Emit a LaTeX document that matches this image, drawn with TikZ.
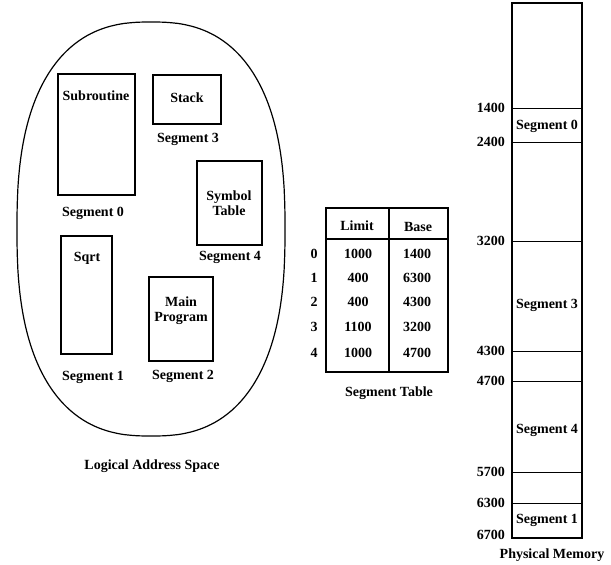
\documentclass[tikz,border=0pt]{standalone}
\usepackage{fontspec}
\setmainfont{Liberation Serif}
\usetikzlibrary{positioning}
\tikzset{
  lbl/.style={font=\fontsize{14}{15}\selectfont\bfseries, inner sep=0pt, align=center},
  segbox/.style={draw, line width=1.3pt},
}

\begin{document}
\begin{tikzpicture}[x=1pt, y=-1pt]
        \useasboundingbox (0,0) rectangle (611,565);
        % logical address space (a rounded oval, fuller than an ellipse)
        \begin{scope}
            \draw[line width=1.2pt] plot[domain=0.5:359.5, samples=360]
                ({151+134*sign(cos(\x))*abs(cos(\x))^0.8}, {229+207*sign(sin(\x))*abs(sin(\x))^0.8}) -- cycle;
            \draw[segbox] (58,74) rectangle (135,195);
            \node[lbl] (subr) at (96,96) {Subroutine};
            \node[lbl] (seg0) at (93,213) {Segment 0};
            \draw[segbox] (153,75) rectangle (221,124);
            \node[lbl] (stack) at (187,98) {Stack};
            \node[lbl] (seg3) at (188,139) {Segment 3};
            \draw[segbox] (197,161) rectangle (262,245);
            \node[lbl] (symtab) at (229,203) {Symbol\\Table};
            \node[lbl] (seg4) at (230,257) {Segment 4};
            \draw[segbox] (61,236) rectangle (112,354);
            \node[lbl] (sqrt) at (87,258) {Sqrt};
            \node[lbl] (seg1) at (93,377) {Segment 1};
            \draw[segbox] (149,277) rectangle (213,361);
            \node[lbl] (mainprog) at (181,311) {Main\\Program};
            \node[lbl] (seg2) at (183,376) {Segment 2};
            \node[lbl] (lastitle) at (152,466) {Logical Address Space};
        \end{scope}

        % segment table
        \begin{scope}
            \draw[line width=1.2pt] (326,208) rectangle (448,372);
            \draw[line width=1.2pt] (326,239) -- (448,239);
            \draw[line width=1.2pt] (389,208) -- (389,372);
            \node[lbl] (limhead) at (357,226) {Limit};
            \node[lbl] (basehead) at (418,227) {Base};
            \foreach \i/\lim/\base/\y in {0/1000/1400/254, 1/400/6300/278, 2/400/4300/302, 3/1100/3200/327, 4/1000/4700/353} {
                \node[lbl] (row\i) at (314,\y) {\i};
                \node[lbl] (lim\i) at (358,\y) {\lim};
                \node[lbl] (base\i) at (417,\y) {\base};
            }
            \node[lbl] (tabtitle) at (389,393) {Segment Table};
        \end{scope}

        % physical memory
        \begin{scope}
            \draw[line width=1.2pt] (512,3) rectangle (582,538);
            \foreach \addr/\y in {1400/108, 2400/142, 3200/241, 4300/351, 4700/381, 5700/472, 6300/503} {
                \draw[line width=1pt] (512,\y) -- (582,\y);
                \node[lbl, anchor=east] (m\addr) at (505,\y) {\addr};
            }
            \node[lbl, anchor=east] (m6700) at (505,535) {6700};
            \node[lbl] (pseg0) at (547,126) {Segment 0};
            \node[lbl] (pseg3) at (547,305) {Segment 3};
            \node[lbl] (pseg4) at (547,430) {Segment 4};
            \node[lbl] (pseg1) at (547,520) {Segment 1};
            \node[lbl] (pmtitle) at (552,555) {Physical Memory};
        \end{scope}
    \end{tikzpicture}
\end{document}
